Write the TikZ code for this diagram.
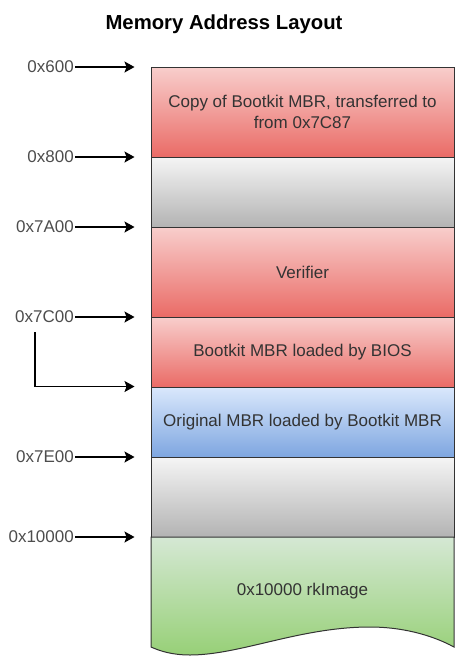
\documentclass[tikz,border=0pt]{standalone}
\usepackage{fontspec}
\setmainfont{Liberation Sans}
\usetikzlibrary{arrows.meta}

\definecolor{redtop}{HTML}{F8CECC}
\definecolor{redbot}{HTML}{EA6B66}
\definecolor{graytop}{HTML}{F5F5F5}
\definecolor{graybot}{HTML}{B3B3B3}
\definecolor{bluetop}{HTML}{DAE8FC}
\definecolor{bluebot}{HTML}{7EA6E0}
\definecolor{greentop}{HTML}{D5E8D4}
\definecolor{greenbot}{HTML}{97D077}
\definecolor{boxline}{HTML}{333333}
\definecolor{boxtext}{HTML}{333333}
\definecolor{addrtext}{HTML}{4D4D4D}

\tikzset{
  membox/.style={draw=boxline, line width=1pt, rectangle, minimum width=303pt,
    inner sep=0pt, text=boxtext, align=center,
    font=\fontsize{17}{20.5}\selectfont},
  redbox/.style={membox, top color=redtop, bottom color=redbot},
  graybox/.style={membox, top color=graytop, bottom color=graybot},
  bluebox/.style={membox, top color=bluetop, bottom color=bluebot},
  addr/.style={anchor=east, inner sep=1pt, text=addrtext,
    font=\fontsize{17}{20.5}\selectfont},
  pointer/.style={draw=black, line width=1.2pt, -{Stealth[length=10pt,width=11pt,inset=2pt]}, shorten >=16pt}
}

\begin{document}
\begin{tikzpicture}[x=1pt, y=-1pt]
            \useasboundingbox (0,0) rectangle (455,657);

            \node[font=\fontsize{20.3}{23}\selectfont\bfseries] (title) at (224,24) {Memory Address Layout};

            % memory blocks
            \node[redbox, minimum height=90pt] (copy) at (302.5,112) {Copy of Bootkit MBR, transferred to\\from 0x7C87};
            \node[graybox, minimum height=70pt] (gap1) at (302.5,192) {};
            \node[redbox, minimum height=90pt] (verifier) at (302.5,272) {Verifier};
            \node[redbox, minimum height=70pt] (bootkit) at (302.5,352) {Bootkit MBR loaded by BIOS};
            \node[bluebox, minimum height=70pt] (orig) at (302.5,422) {Original MBR loaded by Bootkit MBR};
            \node[graybox, minimum height=80pt] (gap2) at (302.5,497) {};

            \path[draw=boxline, line width=1pt, top color=greentop, bottom color=greenbot]
                (151,537) -- (454,537) -- (454,647)
                .. controls (430,634) and (400,627) .. (370,627)
                .. controls (300,627) and (240,655) .. (190,655)
                .. controls (172,655) and (160,651) .. (151,647) -- cycle;
            \node[text=boxtext, font=\fontsize{17}{20.5}\selectfont] (rkimage) at (302.5,591) {0x10000 rkImage};

            % addresses
            \node[addr] (a600) at (75,67) {0x600};
            \node[addr] (a800) at (75,157) {0x800};
            \node[addr] (a7A00) at (75,227) {0x7A00};
            \node[addr] (a7C00) at (75,317) {0x7C00};
            \node[addr] (a7E00) at (75,457) {0x7E00};
            \node[addr] (a10000) at (75,537) {0x10000};
            \coordinate (bend) at (35,332);

            \draw[pointer] (a600.east) -- (a600.east -| copy.west);
            \draw[pointer] (a800.east) -- (a800.east -| gap1.west);
            \draw[pointer] (a7A00.east) -- (a7A00.east -| verifier.west);
            \draw[pointer] (a7C00.east) -- (a7C00.east -| bootkit.west);
            \draw[pointer] (a7E00.east) -- (a7E00.east -| gap2.west);
            \draw[pointer] (a10000.east) -- (a10000.east -| gap2.west);
            \draw[pointer] (bend) |- (orig.north west);
\end{tikzpicture}
\end{document}
